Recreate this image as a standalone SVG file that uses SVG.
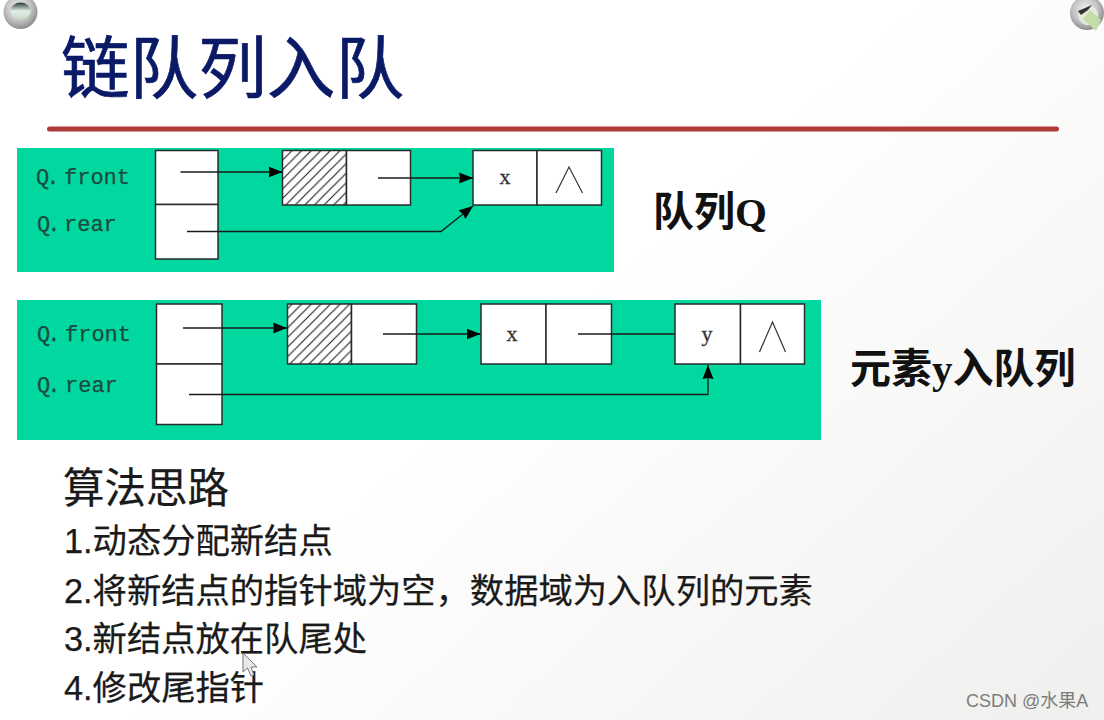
<svg xmlns="http://www.w3.org/2000/svg" width="1104" height="720" viewBox="0 0 1104 720">
<style>
.cell{fill:#fff;stroke:#2a2a2a;stroke-width:1.5}
.conn{fill:none;stroke:#1a1a1a;stroke-width:1.3}
.arr{marker-end:url(#ah)}
.lab{font-family:"Liberation Mono",monospace;font-size:22px;fill:#1c4a40;stroke:#1c4a40;stroke-width:.25}
.val{font-family:"Liberation Serif",serif;font-size:22px;fill:#333;stroke:#333;stroke-width:.3;text-anchor:middle}
.nil{fill:none;stroke:#333;stroke-width:1.2}
.head{font-family:"Liberation Serif","Noto Sans CJK SC",serif;font-size:41px;font-weight:700;fill:#111}
.body{font-family:"Liberation Sans","Noto Sans CJK SC",sans-serif;font-size:34.300px;fill:#1a1a1a;stroke:#1a1a1a;stroke-width:.25}
.panel{fill:#00d8a0}
</style>
<defs>
<marker id="ah" markerUnits="userSpaceOnUse" markerWidth="15" markerHeight="12" refX="14" refY="6" orient="auto"><path d="M0 .5L14 6L0 11.500L1 6Z" fill="#000"/></marker>
<pattern id="hatch" patternUnits="userSpaceOnUse" width="9.600" height="9.600" patternTransform="translate(283 150)"><path d="M-1 10.600L10.600 -1M-1 1L1 -1M8.600 10.600L10.600 8.600" stroke="#1a1a1a" stroke-width="1.100" fill="none"/></pattern>
<linearGradient id="bg" x1="0.4" y1="0.6" x2="0.95" y2="1"><stop offset="0" stop-color="#fff"/><stop offset="1" stop-color="#f0f0ee"/></linearGradient>
<radialGradient id="ring" cx="0.45" cy="0.4" r="0.6"><stop offset="0" stop-color="#f2f2f2"/><stop offset="0.6" stop-color="#c4c4c4"/><stop offset="1" stop-color="#8c8c8c"/></radialGradient>
<linearGradient id="hole" x1="0" y1="0" x2="0" y2="1"><stop offset="0" stop-color="#2a3a3a"/><stop offset="0.5" stop-color="#e0efe6"/><stop offset="1" stop-color="#c8d8c8"/></linearGradient>
</defs>
<rect width="1104" height="720" fill="url(#bg)"/>
<g id="ring-left"><circle cx="20.500" cy="12" r="17" fill="url(#ring)"/><ellipse cx="20.500" cy="11" rx="10" ry="8.500" fill="url(#hole)"/></g>
<g id="ring-right"><circle cx="1087" cy="13" r="17" fill="url(#ring)"/><path d="M1079 11A10 10 0 1 0 1094 7L1086 5Z" fill="#e4ebdc"/><path d="M1083 19L1096 31L1101 20L1090 10Z" fill="#c4dca8"/><path d="M1078 11L1092 5L1088 10L1081 15Z" fill="#333"/></g>
<text id="title" x="61" y="93" font-family="'Liberation Sans','Noto Sans CJK SC',sans-serif" font-size="68" fill="#0a1a66" stroke="#0a1a66" stroke-width=".7" textLength="343" lengthAdjust="spacingAndGlyphs">链队列入队</text>
<rect id="rule" x="47" y="126.500" width="1012" height="5" rx="2.500" fill="#b03a35"/>

<rect id="panel-1" class="panel" x="17" y="148" width="597" height="124"/>
<rect id="panel-2" class="panel" x="17" y="300" width="804" height="140"/>

<g id="q1-labels"><text class="lab" x="36" y="184" letter-spacing="-3">Q.</text><text class="lab" x="64" y="184">front</text><text class="lab" x="37" y="231" letter-spacing="-3">Q.</text><text class="lab" x="64" y="231">rear</text></g>
<g id="q1-head"><rect class="cell" x="155.500" y="150.500" width="62.500" height="54"/><rect class="cell" x="155.500" y="204.500" width="62.500" height="54.500"/></g>
<g id="q1-dummy"><rect x="282.500" y="150.500" width="64" height="54.500" fill="#fff"/><rect x="282.500" y="150.500" width="64" height="54.500" fill="url(#hatch)" stroke="#2a2a2a" stroke-width="1.500"/><rect class="cell" x="346.500" y="150.500" width="64" height="54.500"/></g>
<g id="q1-x"><rect class="cell" x="473" y="150.500" width="64" height="54.500"/><rect class="cell" x="537" y="150.500" width="64.500" height="54.500"/><text class="val" x="505" y="184">x</text><path class="nil" d="M556 193L569 167L582.500 193"/></g>

<g id="q2-labels"><text class="lab" x="37" y="341" letter-spacing="-3">Q.</text><text class="lab" x="65" y="341">front</text><text class="lab" x="37" y="392" letter-spacing="-3">Q.</text><text class="lab" x="65" y="392">rear</text></g>
<g id="q2-head"><rect class="cell" x="156.500" y="304" width="65.500" height="60"/><rect class="cell" x="156.500" y="364" width="65.500" height="60.500"/></g>
<g id="q2-dummy"><rect x="287.500" y="304" width="64" height="60" fill="#fff"/><rect x="287.500" y="304" width="64" height="60" fill="url(#hatch)" stroke="#2a2a2a" stroke-width="1.500"/><rect class="cell" x="351.500" y="304" width="65" height="60"/></g>
<g id="q2-x"><rect class="cell" x="481" y="304" width="65" height="60"/><rect class="cell" x="546" y="304" width="65.500" height="60"/><text class="val" x="512" y="341">x</text></g>
<g id="q2-y"><rect class="cell" x="675" y="304" width="65.500" height="60"/><rect class="cell" x="740.500" y="304" width="64" height="60"/><text class="val" x="707" y="341">y</text><path class="nil" d="M759.500 352L772.500 322L785.500 352"/></g>

<g id="connectors">
<path class="conn arr" d="M180.500 172H282.500"/>
<path class="conn arr" d="M378 178H473"/>
<path class="conn arr" d="M187 231.500H441L473 206"/>
<path class="conn arr" d="M183 328H287"/>
<path class="conn arr" d="M383 334H480.500"/>
<path class="conn" d="M578 334H675"/>
<path class="conn arr" d="M189 394.500H708V365"/>
</g>

<text id="cap-1" class="head" x="653" y="226">队列Q</text>
<text id="cap-2" class="head" x="850" y="383">元素y入队列</text>

<g id="steps">
<text class="body" x="63" y="503" style="font-size:41.500px">算法思路</text>
<text class="body" x="64" y="553">1.动态分配新结点</text>
<text class="body" x="64" y="603">2.将新结点的指针域为空&#xFF0C;数据域为入队列的元素</text>
<text class="body" x="64" y="651">3.新结点放在队尾处</text>
<text class="body" x="64" y="700">4.修改尾指针</text>
</g>
<path id="cursor" d="M243 653V672L247.500 668L251 676L254 675L251 667L257 667Z" fill="#e8e8e8" stroke="#777" stroke-width="1"/>
<text id="watermark" x="966" y="707" font-family="'Liberation Sans','Noto Sans CJK SC',sans-serif" font-size="18" fill="#7d7d7d">CSDN @水果A</text>
</svg>
